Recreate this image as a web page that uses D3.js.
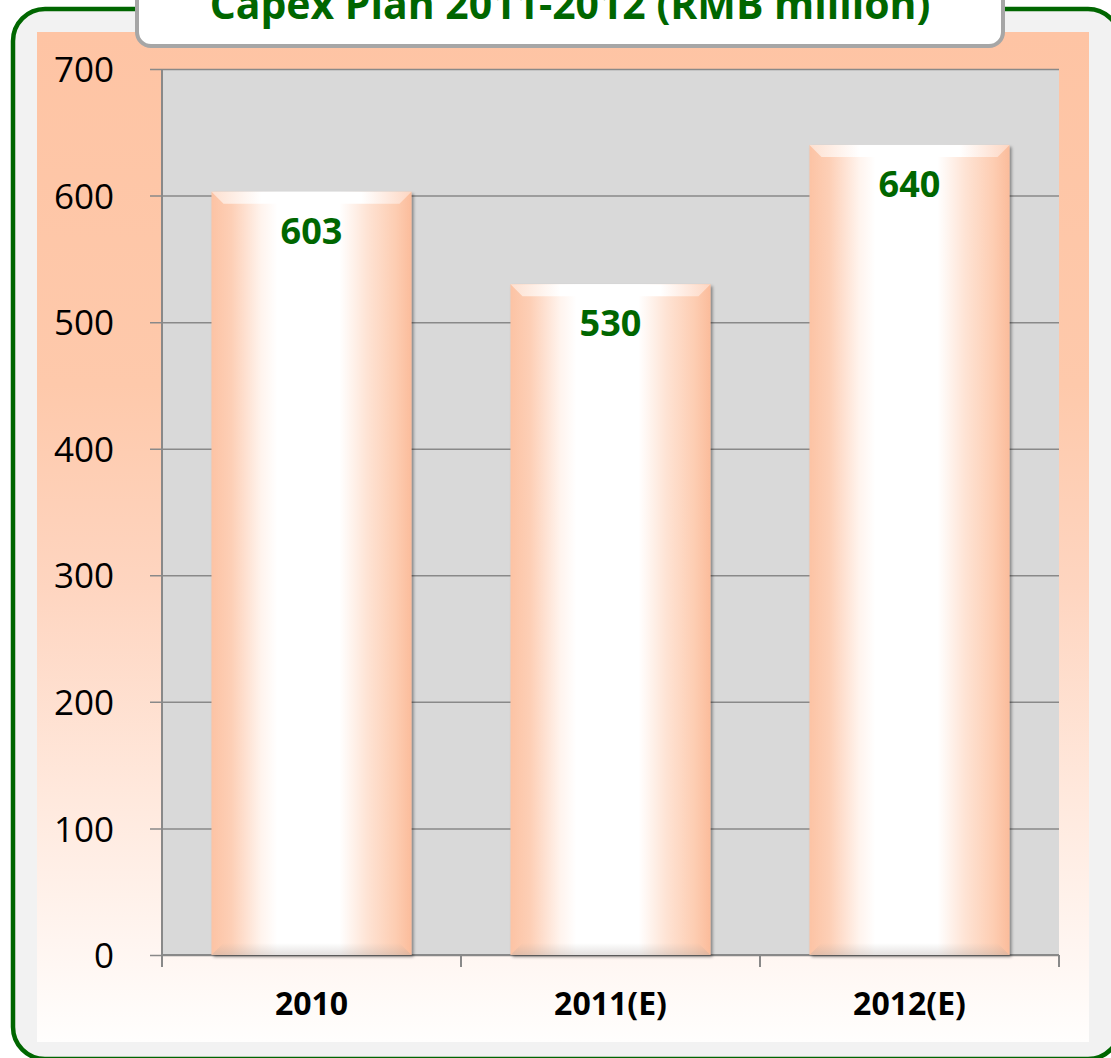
<!DOCTYPE html>
<html>
<head>
<meta charset="utf-8">
<script src="https://cdn.jsdelivr.net/npm/d3@7"></script>
<style>
    body { margin: 0; background: #ffffff; }
    svg { display: block; }
</style>
</head>
<body>
<svg width="1111" height="1058"></svg>
<script>
    'use strict';

    // chart data
    var years = ['2010', '2011(E)', '2012(E)'];
    var capex = [603, 530, 640];
    var yTicks = [0, 100, 200, 300, 400, 500, 600, 700];
    var title = 'Capex Plan 2011-2012 (RMB million)';

    var green = '#006600';
    var svg = d3.select('svg');
    var defs = svg.append('defs');

    // frame and backgrounds
    var bg = defs.append('linearGradient').attr('id', 'bgGrad')
        .attr('x1', 0).attr('y1', 0).attr('x2', 0).attr('y2', 1);
    [[0, '#fec4a4'], [0.35, '#fec9ab'], [0.55, '#fed5c0'], [0.75, '#ffe8dc'], [0.9, '#fff5f0'], [1, '#fffefd']]
        .forEach(function (s) { bg.append('stop').attr('offset', s[0]).attr('stop-color', s[1]); });

    var barGrad = defs.append('linearGradient').attr('id', 'barGrad')
        .attr('x1', 0).attr('y1', 0).attr('x2', 1).attr('y2', 0);
    [[0, '#fcc3a4'], [0.1, '#fdcfb6'], [0.25, '#fff4ee'], [0.33, '#ffffff'], [0.64, '#ffffff'], [0.78, '#fee3d4'], [0.92, '#fdcdb2'], [1, '#fbbc9b']]
        .forEach(function (s) { barGrad.append('stop').attr('offset', s[0]).attr('stop-color', s[1]); });

    var topGrad = defs.append('linearGradient').attr('id', 'topGrad')
        .attr('x1', 0).attr('y1', 0).attr('x2', 1).attr('y2', 0);
    [[0, '#fde0d0'], [0.25, '#ffffff'], [0.75, '#ffffff'], [1, '#fdd6c2']]
        .forEach(function (s) { topGrad.append('stop').attr('offset', s[0]).attr('stop-color', s[1]); });

    var botGrad = defs.append('linearGradient').attr('id', 'botGrad')
        .attr('x1', 0).attr('y1', 0).attr('x2', 0).attr('y2', 1);
    botGrad.append('stop').attr('offset', 0).attr('stop-color', '#b0a8a4').attr('stop-opacity', 0);
    botGrad.append('stop').attr('offset', 1).attr('stop-color', '#b0a8a4').attr('stop-opacity', 0.35);

    var shadow = defs.append('filter').attr('id', 'shadow')
        .attr('x', '-10%').attr('y', '-10%').attr('width', '130%').attr('height', '130%');
    shadow.append('feDropShadow').attr('dx', 2).attr('dy', 2).attr('stdDeviation', 1.5)
        .attr('flood-color', '#000').attr('flood-opacity', 0.4);

    svg.append('rect')
        .attr('x', 13).attr('y', 9).attr('width', 1107).attr('height', 1050)
        .attr('rx', 32).attr('ry', 32)
        .attr('fill', '#f2f2f2').attr('stroke', green).attr('stroke-width', 4.5);

    svg.append('rect')
        .attr('x', 37).attr('y', 32).attr('width', 1052).attr('height', 1010)
        .attr('fill', 'url(#bgGrad)');

    // plot area
    var plot = {left: 162, right: 1059, top: 69, bottom: 955};

    var x = d3.scaleBand()
        .domain(years)
        .range([plot.left, plot.right])
        .paddingInner(0.331)
        .paddingOuter(0.1655);

    var y = d3.scaleLinear()
        .domain([0, 700])
        .range([plot.bottom, plot.top]);

    svg.append('rect')
        .attr('x', plot.left).attr('y', plot.top)
        .attr('width', plot.right - plot.left).attr('height', plot.bottom - plot.top)
        .attr('fill', '#d9d9d9');

    // gridlines + y axis
    var yAxis = svg.append('g')
        .attr('transform', 'translate(' + plot.left + ',0)')
        .call(d3.axisLeft(y).tickValues(yTicks).tickSize(12).tickPadding(48));

    yAxis.select('.domain').remove();
    yAxis.selectAll('.tick line')
        .attr('x2', plot.right - plot.left)
        .attr('x1', -12)
        .attr('stroke', '#898989').attr('stroke-width', 1.5);
    yAxis.selectAll('.tick text')
        .attr('x', -48)
        .attr('dy', '0.36em')
        .style('font-family', '"Open Sans", sans-serif')
        .style('font-size', '35px')
        .attr('fill', '#000');

    svg.append('line')
        .attr('x1', plot.left).attr('x2', plot.left)
        .attr('y1', plot.top).attr('y2', plot.bottom)
        .attr('stroke', '#898989').attr('stroke-width', 2);

    // x axis with ticks at band edges
    var edges = years.map(function (d) { return x(d) - x.step() * x.paddingInner() / 2; });
    edges.push(plot.right);

    svg.append('g').selectAll('line')
        .data(edges)
        .join('line')
        .attr('x1', function (d) { return d; }).attr('x2', function (d) { return d; })
        .attr('y1', plot.bottom).attr('y2', plot.bottom + 12)
        .attr('stroke', '#898989').attr('stroke-width', 2);

    svg.append('line')
        .attr('x1', plot.left).attr('x2', plot.right)
        .attr('y1', plot.bottom).attr('y2', plot.bottom)
        .attr('stroke', '#898989').attr('stroke-width', 2);

    // bars
    var bev = 12;
    var bars = svg.append('g').selectAll('g')
        .data(years)
        .join('g');

    bars.append('rect')
        .attr('x', function (d) { return x(d); })
        .attr('y', function (d, i) { return y(capex[i]); })
        .attr('width', x.bandwidth())
        .attr('height', function (d, i) { return y(0) - y(capex[i]); })
        .attr('fill', 'url(#barGrad)')
        .attr('filter', 'url(#shadow)');

    bars.append('polygon')
        .attr('points', function (d, i) {
            var x0 = x(d), x1 = x(d) + x.bandwidth(), t = y(capex[i]);
            return [[x0, t], [x1, t], [x1 - bev, t + bev], [x0 + bev, t + bev]].join(' ');
        })
        .attr('fill', 'url(#topGrad)');

    bars.append('polygon')
        .attr('points', function (d) {
            var x0 = x(d), x1 = x(d) + x.bandwidth(), b = y(0);
            return [[x0 + bev, b - bev], [x1 - bev, b - bev], [x1, b], [x0, b]].join(' ');
        })
        .attr('fill', 'url(#botGrad)');

    bars.append('text')
        .attr('x', function (d) { return x(d) + x.bandwidth() / 2; })
        .attr('y', function (d, i) { return y(capex[i]) + 52; })
        .attr('text-anchor', 'middle')
        .style('font-family', '"Open Sans", sans-serif')
        .style('font-weight', 'bold')
        .style('font-size', '36px')
        .attr('fill', green)
        .text(function (d, i) { return capex[i]; });

    // category labels
    svg.append('g').selectAll('text')
        .data(years)
        .join('text')
        .attr('x', function (d) { return x(d) + x.bandwidth() / 2; })
        .attr('y', 1015)
        .attr('text-anchor', 'middle')
        .style('font-family', '"Open Sans", sans-serif')
        .style('font-weight', 'bold')
        .style('font-size', '32px')
        .attr('fill', '#000')
        .text(function (d) { return d; });

    // title box
    svg.append('rect')
        .attr('x', 137).attr('y', -20).attr('width', 866).attr('height', 66)
        .attr('rx', 14).attr('ry', 14)
        .attr('fill', '#ffffff').attr('stroke', '#a6a6a6').attr('stroke-width', 4);

    var titleText = svg.append('text')
        .attr('x', 570).attr('y', 19)
        .attr('text-anchor', 'middle')
        .style('font-family', '"Open Sans", sans-serif')
        .style('font-weight', 'bold')
        .style('font-size', '32px')
        .attr('fill', green)
        .text(title);

    // fit title to the width seen in the original
    var len = titleText.node().getComputedTextLength();
    titleText.style('font-size', (32 * 721 / len) + 'px');
</script>
</body>
</html>
